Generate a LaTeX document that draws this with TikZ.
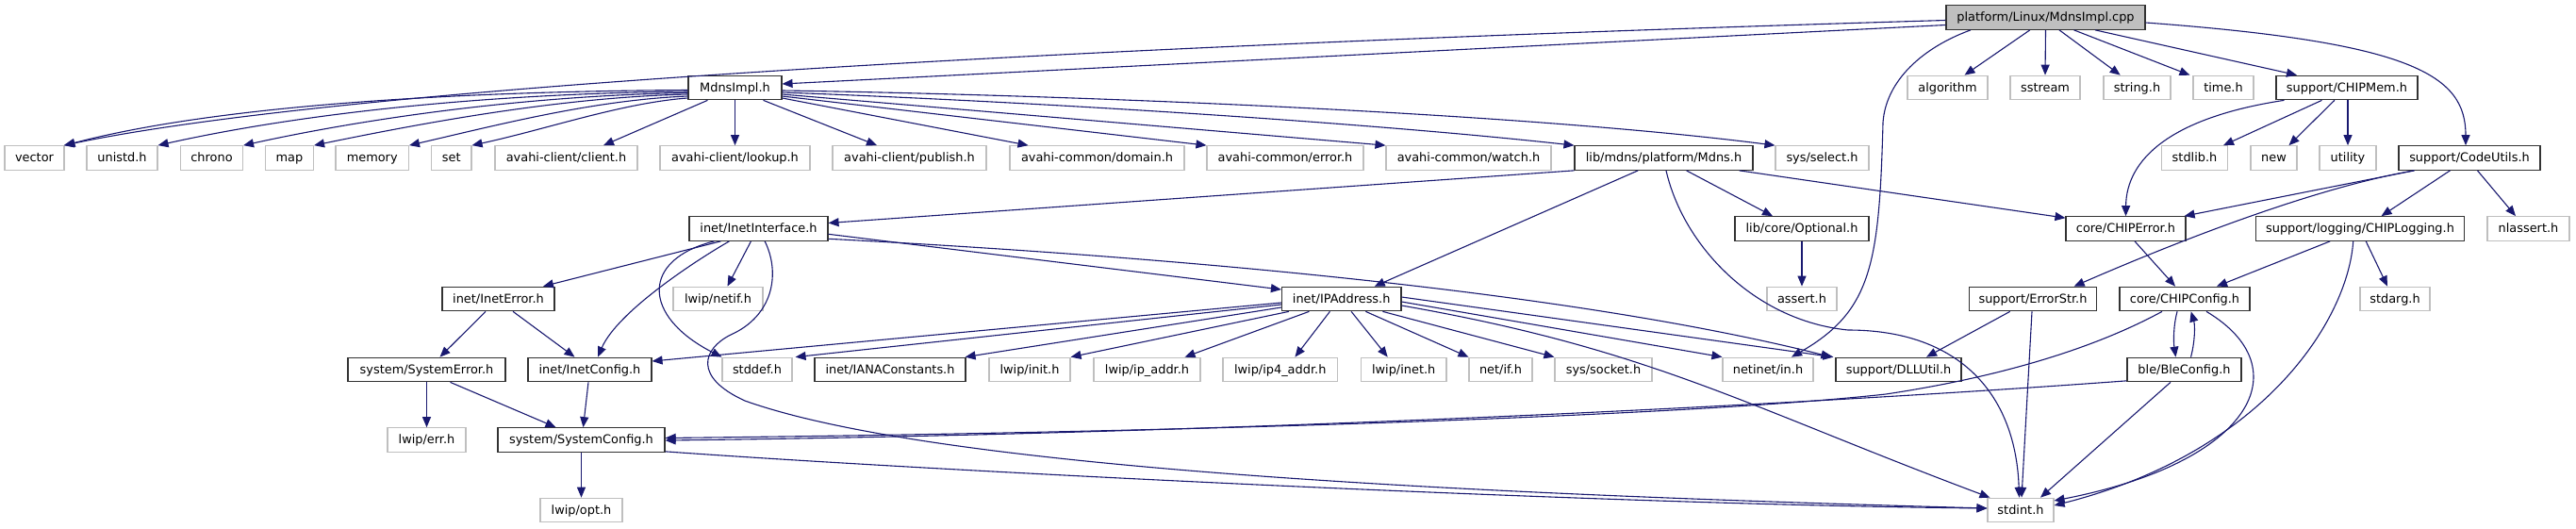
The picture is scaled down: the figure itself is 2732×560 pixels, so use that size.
\documentclass[tikz,border=0pt]{standalone}
\usepackage{fontspec}
\setmainfont{DejaVu Sans}
\usetikzlibrary{arrows.meta,calc}
\definecolor{edgec}{RGB}{25,25,112}
\begin{document}
\begin{tikzpicture}[x=1pt,y=-1pt,
  base/.style={rectangle, inner sep=0pt, minimum height=25.6pt, line width=1.1pt,
    font=\fontsize{12.9}{15}\selectfont, text height=10.5pt, text depth=2.5pt},
  nb/.style={base, draw=black!80, fill=white},
  ng/.style={base, draw=black!25, fill=white},
  nr/.style={base, draw=black!80, fill=black!25},
  e/.style={draw=edgec, line width=1.1pt, -{Triangle[length=11pt,width=9pt]}, fill=none}]
\fill[white] (0,0) rectangle (2732,560);
\useasboundingbox (0,0) rectangle (2732,560);
% row 0
\node[nr, minimum width=211pt] (root) at (2169.5,18.5) {platform/Linux/MdnsImpl.cpp};
% row 1
\node[nb, minimum width=99pt] (mdnsh) at (779.5,93) {MdnsImpl.h};
\node[ng, minimum width=85pt] (algorithm) at (2065.5,93) {algorithm};
\node[ng, minimum width=74pt] (sstream) at (2169,93) {sstream};
\node[ng, minimum width=71pt] (stringh) at (2266.5,93) {string.h};
\node[ng, minimum width=64pt] (timeh) at (2358,93) {time.h};
\node[nb, minimum width=150pt] (chipmem) at (2489,93) {support/CHIPMem.h};
% row 2
\node[ng, minimum width=63pt] (vector) at (36.5,167.5) {vector};
\node[ng, minimum width=75pt] (unistd) at (129.5,167.5) {unistd.h};
\node[ng, minimum width=66pt] (chrono) at (224.5,167.5) {chrono};
\node[ng, minimum width=51pt] (map) at (307,167.5) {map};
\node[ng, minimum width=77.5pt] (memory) at (394.7,167.5) {memory};
\node[ng, minimum width=42.4pt] (set) at (478.8,167.5) {set};
\node[ng, minimum width=151pt] (aclient) at (600.5,167.5) {avahi-client/client.h};
\node[ng, minimum width=159pt] (alookup) at (779.5,167.5) {avahi-client/lookup.h};
\node[ng, minimum width=163pt] (apublish) at (964.5,167.5) {avahi-client/publish.h};
\node[ng, minimum width=185pt] (adomain) at (1163.5,167.5) {avahi-common/domain.h};
\node[ng, minimum width=166pt] (aerror) at (1363,167.5) {avahi-common/error.h};
\node[ng, minimum width=175pt] (awatch) at (1557.5,167.5) {avahi-common/watch.h};
\node[nb, minimum width=189pt] (mdns) at (1764.5,167.5) {lib/mdns/platform/Mdns.h};
\node[ng, minimum width=99pt] (select) at (1932.5,167.5) {sys/select.h};
\node[ng, minimum width=70pt] (stdlib) at (2327.5,167.5) {stdlib.h};
\node[ng, minimum width=49pt] (new) at (2411.5,167.5) {new};
\node[ng, minimum width=60pt] (utility) at (2490,167.5) {utility};
\node[nb, minimum width=150pt] (codeutils) at (2619,167.5) {support/CodeUtils.h};
% row 3
\node[nb, minimum width=147pt] (inetif) at (804.5,242.5) {inet/InetInterface.h};
\node[nb, minimum width=142pt] (optional) at (1911,242.5) {lib/core/Optional.h};
\node[nb, minimum width=127pt] (chiperror) at (2254.5,242.5) {core/CHIPError.h};
\node[nb, minimum width=220.5pt] (chiplog) at (2503,242.5) {support/logging/CHIPLogging.h};
\node[ng, minimum width=87pt] (nlassert) at (2681.5,242.5) {nlassert.h};
% row 4
\node[nb, minimum width=119pt] (ineterr) at (528.5,317) {inet/InetError.h};
\node[ng, minimum width=95pt] (netif) at (761.5,317) {lwip/netif.h};
\node[nb, minimum width=126.5pt] (ipaddr) at (1422.7,317) {inet/IPAddress.h};
\node[ng, minimum width=74pt] (assert) at (1911,317) {assert.h};
\node[nb, minimum width=135.5pt] (errorstr) at (2156,317) {support/ErrorStr.h};
\node[nb, minimum width=138pt] (chipconfig) at (2317,317) {core/CHIPConfig.h};
\node[ng, minimum width=74pt] (stdarg) at (2540,317) {stdarg.h};
% row 5
\node[nb, minimum width=167pt] (syserr) at (452.5,392) {system/SystemError.h};
\node[nb, minimum width=131pt] (inetcfg) at (625.5,392) {inet/InetConfig.h};
\node[ng, minimum width=74pt] (stddef) at (803,392) {stddef.h};
\node[nb, minimum width=160pt] (iana) at (944,392) {inet/IANAConstants.h};
\node[ng, minimum width=86pt] (lwipinit) at (1092,392) {lwip/init.h};
\node[ng, minimum width=113pt] (ipaddrh) at (1216.5,392) {lwip/ip\_addr.h};
\node[ng, minimum width=121.5pt] (ip4addr) at (1357.7,392) {lwip/ip4\_addr.h};
\node[ng, minimum width=90.5pt] (lwipinet) at (1488.7,392) {lwip/inet.h};
\node[ng, minimum width=67pt] (netif2) at (1591.5,392) {net/if.h};
\node[ng, minimum width=103pt] (socket) at (1700.5,392) {sys/socket.h};
\node[ng, minimum width=96pt] (netinetin) at (1875,392) {netinet/in.h};
\node[nb, minimum width=133pt] (dllutil) at (2013.5,392) {support/DLLUtil.h};
\node[nb, minimum width=121pt] (bleconfig) at (2316.5,392) {ble/BleConfig.h};
% row 6
\node[ng, minimum width=83pt] (lwiperr) at (452.5,466.5) {lwip/err.h};
\node[nb, minimum width=177pt] (sysconfig) at (616.5,466.5) {system/SystemConfig.h};
% row 7
\node[ng, minimum width=87pt] (opt) at (616.5,541) {lwip/opt.h};
\node[ng, minimum width=70pt] (stdint) at (2143,541) {stdint.h};

% ---- edges from root
\draw[e] ($(root.west)+(0,3)$) .. controls (1300,44) and (400,85) .. ($(vector.north east)+(-1,0)$);
\draw[e] ($(root.west)+(0,8)$) -- ($(mdnsh.east)+(0,-4)$);
\draw[e] ($(root.south)+(-16.7,0)$) -- ($(algorithm.north)+(18,0)$);
\draw[e] (root.south) -- (sstream.north);
\draw[e] ($(root.south)+(14.5,0)$) -- ($(stringh.north)+(-17.8,0)$);
\draw[e] ($(root.south)+(30,0)$) -- ($(timeh.north west)+(-3,0)$);
\draw[e] ($(root.south)+(52.5,0)$) -- ($(chipmem.north)+(-53,0)$);
\draw[e] ($(root.east)+(0,5.5)$) .. controls (2560,45) and (2615,80) .. ($(codeutils.north)+(-4,0)$);
\draw[e] ($(root.south)+(-79.5,0)$) .. controls (2040,50) and (2000,85) .. (1997,130)
   .. controls (1993,280) and (1985,330) .. ($(netinetin.north)+(25,0)$);
% ---- MdnsImpl.h
\draw[e] ($(mdnsh.west)+(0,2.5)$) .. controls (480,97) and (230,112) .. (vector.north east);
\draw[e] ($(mdnsh.west)+(0,4)$) .. controls (530,99) and (330,118) .. (unistd.north east);
\draw[e] ($(mdnsh.west)+(0,5.5)$) .. controls (570,101) and (400,123) .. (chrono.north east);
\draw[e] ($(mdnsh.west)+(0,7)$) .. controls (600,103) and (460,128) .. (map.north east);
\draw[e] ($(mdnsh.west)+(0,9)$) .. controls (630,106) and (530,132) .. (memory.north east);
\draw[e] ($(mdnsh.west)+(0,11)$) .. controls (660,109) and (580,137) .. (set.north east);
\draw[e] ($(mdnsh.south west)+(21,0)$) -- ($(aclient.north)+(39.5,0)$);
\draw[e] (mdnsh.south) -- (alookup.north);
\draw[e] ($(mdnsh.south)+(30,0)$) -- ($(apublish.north)+(-34.5,0)$);
\draw[e] ($(mdnsh.east)+(0,11)$) -- ($(adomain.north)+(-73,0)$);
\draw[e] ($(mdnsh.east)+(0,9)$) -- (aerror.north west);
\draw[e] ($(mdnsh.east)+(0,7)$) -- (awatch.north west);
\draw[e] ($(mdnsh.east)+(0,5)$) .. controls (1100,108) and (1450,130) .. (mdns.north west);
\draw[e] ($(mdnsh.east)+(0,3)$) .. controls (1100,100) and (1600,118) .. (select.north west);
% ---- Mdns.h
\draw[e] (mdns.south west) -- ($(inetif.east)+(0,-6)$);
\draw[e] ($(mdns.south)+(-27.3,0)$) -- ($(ipaddr.north)+(35,0)$);
\draw[e] ($(mdns.south)+(24,0)$) -- ($(optional.north)+(-31,0)$);
\draw[e] ($(mdns.south east)+(-15,0)$) -- ($(chiperror.north west)+(0,2)$);
\draw[e] ($(mdns.south)+(2.5,0)$) .. controls (1785,260) and (1860,340) .. (1960,350)
   .. controls (2080,350) and (2138,420) .. ($(stdint.north)+(-1.5,0)$);
\draw[e] (optional.south) -- (assert.north);
% ---- CHIPMem
\draw[e] ($(chipmem.south west)+(9,0)$) .. controls (2300,125) and (2255,170) .. (chiperror.north);
\draw[e] ($(chipmem.south west)+(49,0)$) -- ($(stdlib.north)+(30.5,0)$);
\draw[e] ($(chipmem.south west)+(62.4,0)$) -- ($(new.north)+(16,0)$);
\draw[e] ($(chipmem.south)+(1,0)$) -- (utility.north);
% ---- CodeUtils
\draw[e] ($(codeutils.south west)+(17,0)$) -- ($(chiperror.north east)+(-2,0)$);
\draw[e] ($(codeutils.south west)+(17,0)$) .. controls (2450,200) and (2300,260) .. ($(errorstr.north)+(43.6,0)$);
\draw[e] ($(codeutils.south west)+(55,0)$) -- ($(chiplog.north)+(22.5,0)$);
\draw[e] ($(codeutils.south west)+(84,0)$) -- ($(nlassert.north)+(-13.5,0)$);
% ---- CHIPError, CHIPLogging
\draw[e] ($(chiperror.south)+(9.5,0)$) -- ($(chipconfig.north)+(-10,0)$);
\draw[e] ($(chiplog.south west)+(79,0)$) -- ($(chipconfig.north)+(34,0)$);
\draw[e] ($(chiplog.south west)+(117,0)$) -- ($(stdarg.north)+(-8,0)$);
\draw[e] ($(chiplog.south west)+(103.5,0)$) .. controls (2490,340) and (2400,480) .. ($(stdint.east)+(0,-5)$);
% ---- ErrorStr
\draw[e] ($(errorstr.south west)+(44,0)$) -- ($(dllutil.north)+(29.5,0)$);
\draw[e] ($(errorstr.south)+(-1,0)$) -- ($(stdint.north)+(1,0)$);
% ---- CHIPConfig, BleConfig
\draw[e] ($(chipconfig.south)+(-8,0)$) .. controls (2305,345) and (2305,362) .. ($(bleconfig.north)+(-9,0)$);
\draw[e] ($(bleconfig.north)+(7,0)$) .. controls (2328,362) and (2328,345) .. ($(chipconfig.south)+(6.7,0)$);
\draw[e] ($(chipconfig.south)+(-24,0)$) .. controls (2220,370) and (2120,400) .. (2000,418)
   .. controls (1800,440) and (1300,458) .. ($(sysconfig.east)+(0,-2)$);
\draw[e] ($(chipconfig.south)+(23,0)$) .. controls (2440,390) and (2390,490) .. ($(stdint.east)+(0,-10)$);
\draw[e] ($(bleconfig.south west)+(0,-1.5)$) .. controls (1900,430) and (1300,460) .. ($(sysconfig.east)+(0,0.5)$);
\draw[e] ($(bleconfig.south)+(-14.5,0)$) -- ($(stdint.north)+(21,0)$);
% ---- SystemConfig
\draw[e] (sysconfig.south) -- (opt.north);
\draw[e] ($(sysconfig.south east)+(0,-1)$) .. controls (1000,500) and (1700,535) .. ($(stdint.west)+(0,-2)$);
% ---- InetInterface
\draw[e] ($(inetif.south west)+(34,0)$) -- ($(ineterr.north)+(47.5,0)$);
\draw[e] ($(inetif.south west)+(43,0)$) .. controls (740,275) and (655,330) .. ($(inetcfg.north)+(8.5,0)$);
\draw[e] ($(inetif.south west)+(27,0)$) .. controls (680,275) and (680,335) .. (stddef.north west);
\draw[e] ($(inetif.south west)+(66,0)$) -- ($(netif.north)+(10,0)$);
\draw[e] ($(inetif.south west)+(80.7,0)$) .. controls (828,290) and (820,335) .. (775,355)
   .. controls (745,370) and (735,400) .. (790,425)
   .. controls (1000,500) and (1600,525) .. ($(stdint.west)+(0,-2)$);
\draw[e] ($(inetif.east)+(0,5.8)$) -- ($(ipaddr.west)+(0,-10)$);
\draw[e] ($(inetif.east)+(0,10.8)$) .. controls (1200,270) and (1650,305) .. ($(dllutil.north west)+(-4,0)$);
% ---- IPAddress
\draw[e] ($(ipaddr.west)+(0,4)$) -- ($(inetcfg.east)+(0,-9)$);
\draw[e] ($(ipaddr.west)+(0,6)$) -- ($(stddef.north east)+(3,0)$);
\draw[e] ($(ipaddr.west)+(0,9)$) -- ($(iana.north east)+(-1,0)$);
\draw[e] ($(ipaddr.south west)+(8,0)$) -- (lwipinit.north east);
\draw[e] ($(ipaddr.south west)+(29.5,0)$) -- ($(ipaddrh.north)+(40,0)$);
\draw[e] ($(ipaddr.south west)+(51.5,0)$) -- ($(ip4addr.north)+(15.7,0)$);
\draw[e] ($(ipaddr.south west)+(74.2,0)$) -- ($(lwipinet.north)+(-17,0)$);
\draw[e] ($(ipaddr.south west)+(89.5,0)$) -- (netif2.north west);
\draw[e] ($(ipaddr.south west)+(107.5,0)$) -- (socket.north west);
\draw[e] ($(ipaddr.east)+(0,3)$) -- (netinetin.north west);
\draw[e] ($(ipaddr.east)+(0,-2)$) -- ($(dllutil.north west)+(-2,0)$);
\draw[e] ($(ipaddr.east)+(0,7)$) .. controls (1750,370) and (1850,430) .. ($(stdint.north west)+(3,0)$);
% ---- InetError, SystemError, InetConfig
\draw[e] ($(ineterr.south west)+(46.6,0)$) -- ($(syserr.north)+(14,0)$);
\draw[e] ($(ineterr.south west)+(75.6,0)$) -- ($(inetcfg.north)+(-16,0)$);
\draw[e] (syserr.south) -- (lwiperr.north);
\draw[e] ($(syserr.south)+(25,0)$) -- ($(sysconfig.north)+(-27,0)$);
\draw[e] ($(inetcfg.south)+(-1.5,0)$) -- ($(sysconfig.north)+(2,0)$);
\end{tikzpicture}
\end{document}
